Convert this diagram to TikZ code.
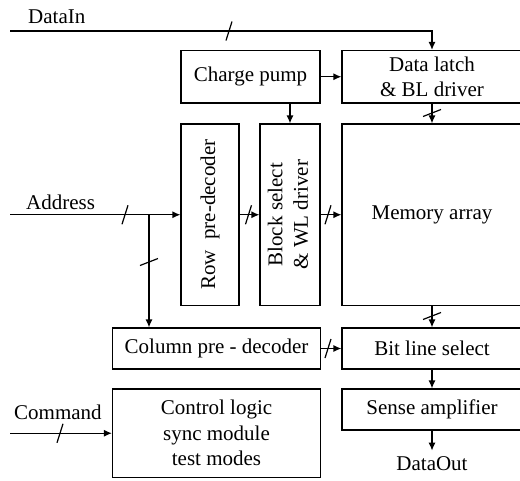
\documentclass[tikz,border=0pt]{standalone}
\usepackage{fontspec}
\usepackage{graphicx}
\setmainfont{Liberation Serif}
\usetikzlibrary{arrows.meta,calc}
\tikzset{
  box/.style={draw, line width=1.2pt, inner sep=0pt, align=center, font=\fontsize{21}{25.5}\selectfont},
  lbl/.style={inner sep=0pt, font=\fontsize{21}{25.5}\selectfont},
  conn/.style={line width=1.2pt},
  arr/.style={line width=1.2pt, -{Latex[length=8pt,width=7pt]}},
  hmark/.pic={\draw[line width=1.2pt] (-3,9.5) -- (3,-9.5);},
  vmark/.pic={\draw[line width=1.2pt] (-9,3.5) -- (9,-3.5);},
}
\begin{document}
\begin{tikzpicture}[x=1pt,y=-1pt]
\useasboundingbox (0,0) rectangle (520,480);
\clip (0,0) rectangle (520,480);
% boxes
\node[box, minimum width=139pt, minimum height=52.5pt] (cp) at (250.5,76.75) {Charge pump};
\node[box, minimum width=180pt, minimum height=52.5pt] (dl) at (432,76.75) {Data latch\\\& BL driver};
\node[box, minimum width=58pt, minimum height=181.5pt] (row) at (210,214.75) {\rotatebox{90}{Row~ pre-decoder}};
\node[box, minimum width=60pt, minimum height=181.5pt] (blk) at (290,214.75) {\rotatebox{90}{\begin{tabular}{@{}c@{}}Block select\\\& WL driver\end{tabular}}};
\node[box, minimum width=180pt, minimum height=181.5pt] (mem) at (432,214.75) {Memory array};
\node[box, minimum width=208pt, minimum height=41pt] (col) at (216.5,348.5) {Column pre - decoder};
\node[box, minimum width=180pt, minimum height=41pt] (bls) at (432,348.5) {Bit line select};
\node[box, minimum width=180pt, minimum height=41pt] (sa) at (432,409.5) {Sense amplifier};
\node[box, minimum width=208pt, minimum height=88.5pt] (ctl) at (216.5,433.25) {Control logic\\sync module\\test modes};
% labels
\node[lbl, anchor=base west] (dinl) at (28,23) {DataIn};
\node[lbl, anchor=base west] (addl) at (26,209) {Address};
\node[lbl, anchor=base west] (cmdl) at (14,419) {Command};
\node[lbl, anchor=base] (doutl) at (432,470) {DataOut};
% coordinates
\coordinate (din) at (10,31);
\coordinate (addin) at (10,214.75);
\coordinate (br) at (149,214.75);
\coordinate (cmdin) at (10,433.25);
% connectors
\draw[arr] (din) -| (dl.north);
\pic at (229,31) {hmark};
\draw[arr] (cp) -- (dl);
\draw[arr] (blk.north |- cp.south) -- (blk.north);
\draw[arr] (dl) -- (mem);
\pic at (432,113) {vmark};
\draw[arr] (addin) -- (row.west);
\pic at (125,214.75) {hmark};
\draw[arr] (br) -- (br |- col.north);
\pic at (149,262) {vmark};
\draw[arr] (row) -- (blk);
\pic at (248.5,214.75) {hmark};
\draw[arr] (blk) -- (mem);
\pic at (328,214.75) {hmark};
\draw[arr] (mem) -- (bls);
\pic at (432,316) {vmark};
\draw[arr] (col) -- (bls);
\pic at (328,348.5) {hmark};
\draw[arr] (bls) -- (sa);
\draw[arr] (sa.south) -- ($(sa.south)+(0,20)$) coordinate (dout);
\draw[arr] (cmdin) -- (ctl.west);
\pic at (60,433.25) {hmark};
\end{tikzpicture}
\end{document}
